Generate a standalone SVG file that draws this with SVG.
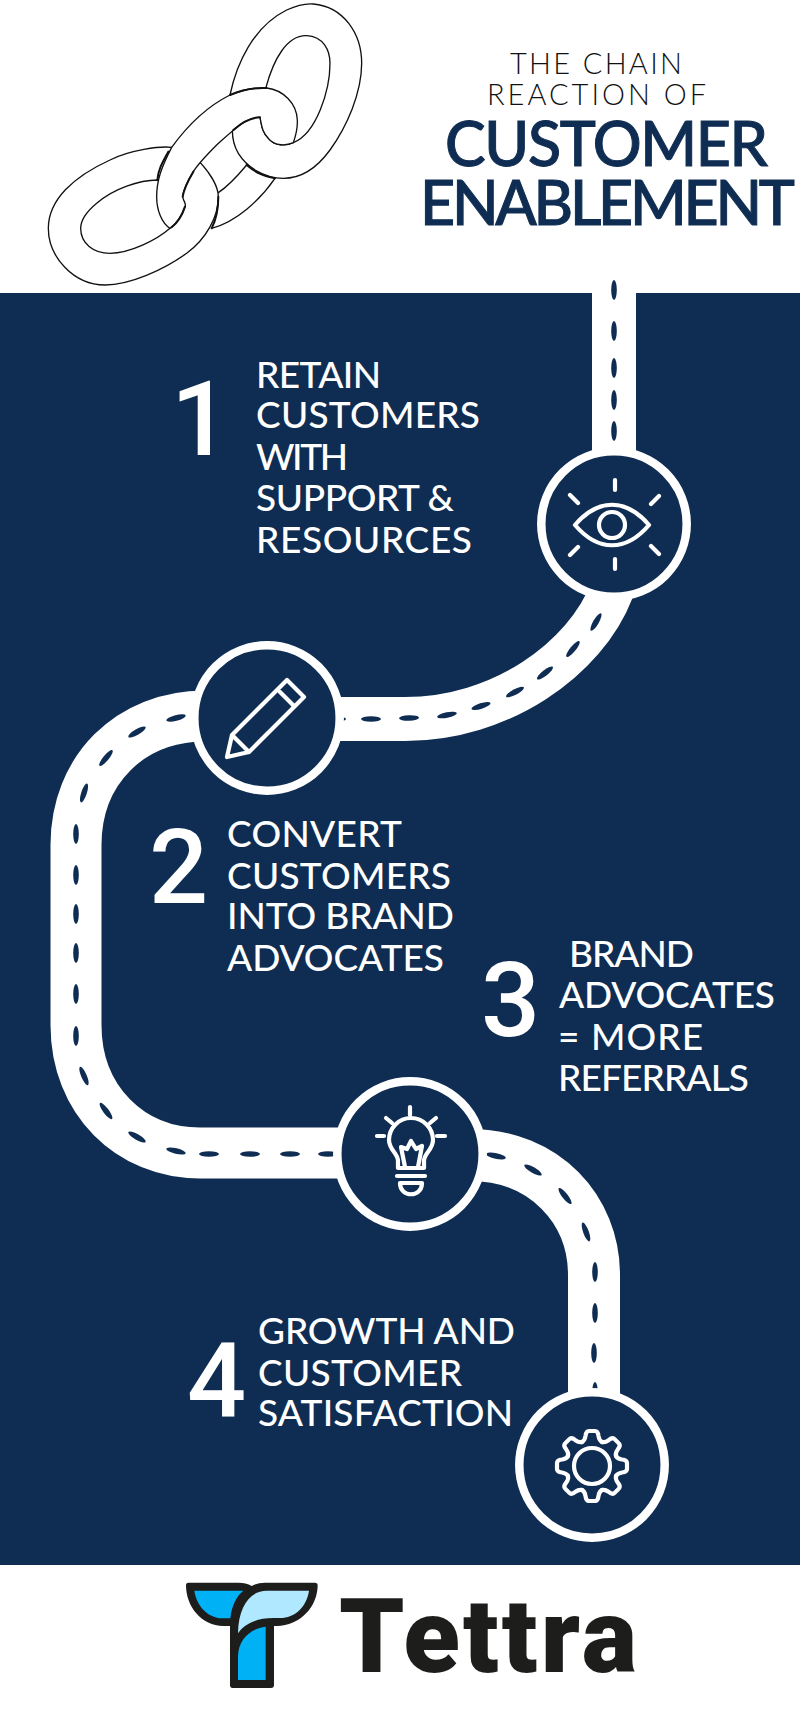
<svg xmlns="http://www.w3.org/2000/svg" width="800" height="1714" viewBox="0 0 800 1714">
<style>
.road{fill:none;stroke:#fff}
.ring{fill:#0f2d52;stroke:#fff;stroke-width:8.5}
.ico{fill:none;stroke:#fff;stroke-width:4.2;stroke-linecap:round;stroke-linejoin:round}
.chain{fill:#fff;stroke:#111;stroke-width:4;stroke-linejoin:round;stroke-linecap:round}
.line{fill:none;stroke:#111;stroke-width:4;stroke-linecap:round}
.thick{fill:none;stroke:#111;stroke-width:6;stroke-linecap:round}
.lab{font-family:"Lato","Liberation Sans",sans-serif;font-size:37px;font-weight:500;fill:#fff}
.num{font-family:"Roboto","Liberation Sans",sans-serif;font-size:104px;font-weight:500;fill:#fff}
.t1{font-family:"Lato","Liberation Sans",sans-serif;font-size:29px;font-weight:300;fill:#111}
.t2{font-family:"Lato","Liberation Sans",sans-serif;font-size:61px;font-weight:500;fill:#0f2d52;stroke:#0f2d52;stroke-width:1}
</style>
<defs><ellipse id="d" rx="10" ry="2.800" fill="#0f2d52"/></defs>
<rect width="800" height="1714" fill="#fff"/>
<rect id="panel" x="0" y="293" width="800" height="1272" fill="#0f2d52"/>
<g id="chain" transform="translate(30 0) scale(.33333)">
<path class="chain" d="M600 285C620 190 670 80 770 30C810 12 830 10 850 12C940 20 995 100 995 190C995 280 950 380 900 450C860 505 810 535 760 535C700 535 650 500 625 460C610 435 607 410 607 390Z"/>
<path class="chain" d="M708 262C730 180 770 105 830 107C880 110 900 150 900 190C900 270 860 400 790 428C770 437 735 440 715 415C695 395 695 375 690 352Z"/>
<path class="line" d="M565 578C600 555 625 525 650 495"/>
<path class="line" d="M545 685C620 665 690 600 735 535"/>
<path class="chain" d="M425 442C390 438 300 450 240 480C130 530 55 600 55 685C55 770 130 855 225 855C300 855 400 810 470 760C530 715 565 650 565 590C565 560 540 520 513 490L425 442Z"/>
<path class="chain" d="M382 540C330 540 250 565 200 610C170 635 152 660 152 685C152 730 190 760 240 760C300 760 380 720 420 685L460 600Z"/>
<path class="chain" d="M600 285C640 268 670 262 710 264C760 270 800 310 802 360C803 385 798 405 790 428C770 437 735 440 715 415C695 395 695 375 690 352C650 350 610 390 560 435C530 465 505 490 490 515C475 540 460 570 458 590C460 605 470 610 465 620C455 650 440 670 420 685C395 670 380 630 380 590C380 540 395 500 425 442C470 380 530 320 600 285Z"/>
<path class="thick" d="M600 285C640 268 670 262 710 264M382 540C385 510 395 490 415 455M490 515C475 540 462 565 458 590M465 620C455 650 440 670 425 682M565 590C565 640 555 665 545 685M650 495C680 520 700 528 735 535M690 352C660 352 630 372 610 390"/>
</g>
<g id="title">
<text class="t1" x="510" y="74" textLength="172" lengthAdjust="spacing">THE CHAIN</text>
<text class="t1" x="487" y="105" textLength="219" lengthAdjust="spacing">REACTION OF</text>
<text class="t2" x="445" y="166" textLength="323" lengthAdjust="spacing">CUSTOMER</text>
<text class="t2" x="420" y="225" textLength="375" lengthAdjust="spacing">ENABLEMENT</text>
</g>
<g id="connectors">
<path class="road" stroke-width="44" d="M614 283V530"/>
<path class="road" stroke-width="44" d="M612 590C585 660 500 719 405 719H300"/>
<path class="road" stroke-width="51" d="M267 716H205C130 716 76 770 76 845V1025C76 1100 130 1153 200 1153H420"/>
<path class="road" stroke-width="52" d="M400 1155H470C545 1155 594 1210 594 1275V1460"/>
<g id="dashes">
<use href="#d" transform="translate(614 290) rotate(90)"/>
<use href="#d" transform="translate(614 331) rotate(90)"/>
<use href="#d" transform="translate(614 368) rotate(90)"/>
<use href="#d" transform="translate(614 400) rotate(90)"/>
<use href="#d" transform="translate(614 431) rotate(90)"/>
<use href="#d" transform="translate(596 622) rotate(-60)"/>
<use href="#d" transform="translate(573 649) rotate(-50)"/>
<use href="#d" transform="translate(545 673) rotate(-38)"/>
<use href="#d" transform="translate(515 692) rotate(-28)"/>
<use href="#d" transform="translate(481 706) rotate(-18)"/>
<use href="#d" transform="translate(447 715) rotate(-11)"/>
<use href="#d" transform="translate(409 718) rotate(-2)"/>
<use href="#d" transform="translate(371 719)"/>
<use href="#d" transform="translate(336 719)"/>
<use href="#d" transform="translate(176 718) rotate(-14)"/>
<use href="#d" transform="translate(137 732) rotate(-30)"/>
<use href="#d" transform="translate(106 758) rotate(-50)"/>
<use href="#d" transform="translate(84 793) rotate(-72)"/>
<use href="#d" transform="translate(76 834) rotate(90)"/>
<use href="#d" transform="translate(76 875) rotate(90)"/>
<use href="#d" transform="translate(76 914) rotate(90)"/>
<use href="#d" transform="translate(76 953) rotate(90)"/>
<use href="#d" transform="translate(76 994) rotate(90)"/>
<use href="#d" transform="translate(76 1036) rotate(90)"/>
<use href="#d" transform="translate(84 1076) rotate(67)"/>
<use href="#d" transform="translate(106 1111) rotate(53)"/>
<use href="#d" transform="translate(137 1137) rotate(30)"/>
<use href="#d" transform="translate(176 1151) rotate(13)"/>
<use href="#d" transform="translate(209 1154)"/>
<use href="#d" transform="translate(250 1154)"/>
<use href="#d" transform="translate(290 1154)"/>
<use href="#d" transform="translate(328 1154)"/>
<use href="#d" transform="translate(496 1156) rotate(12)"/>
<use href="#d" transform="translate(533 1170) rotate(30)"/>
<use href="#d" transform="translate(565 1196) rotate(52)"/>
<use href="#d" transform="translate(586 1232) rotate(70)"/>
<use href="#d" transform="translate(595 1272) rotate(90)"/>
<use href="#d" transform="translate(595 1313) rotate(90)"/>
<use href="#d" transform="translate(594 1353) rotate(90)"/>
<use href="#d" transform="translate(595 1392) rotate(90)"/>
</g>
</g>
<g id="node-eye">
<circle class="ring" cx="614" cy="524" r="72.7"/>
<path class="ico" d="M575 525C598 498 626 498 649 525C626 552 598 552 575 525Z"/>
<circle class="ico" cx="612" cy="525" r="13"/>
<path class="ico" d="M615 480V490M615 559V569M570 495L578 503M659 496L651 504M578 547L570 555M651 546L659 554"/>
</g>
<g id="node-pencil">
<circle class="ring" cx="267" cy="718" r="72.7"/>
<path class="ico" d="M227 757L232 735L287 680L304 697L249 752ZM232 735L249 752M280 692L293 705"/>
</g>
<g id="node-bulb">
<circle class="ring" cx="410" cy="1154" r="72.7"/>
<path class="ico" d="M410 1107V1115M386 1118L392 1123M436 1118L430 1123M377 1136H384M437 1136H445"/>
<path class="ico" d="M398 1168V1161C398 1153 389 1150 389 1140A22 22 0 0 1 433 1140C433 1150 424 1153 424 1161V1168ZM405 1167L401 1147L407 1149L411 1141L416 1149L422 1146L418 1167M397 1176H425M400 1183H422C422 1198 400 1198 400 1183Z"/>
</g>
<g id="node-gear">
<circle class="ring" cx="592" cy="1465" r="72.7"/>
<g transform="translate(592 1466)">
<circle class="ico" r="18"/>
<path id="tooth" class="ico" d="M-10-24C-8-25-7-27-6.500-30Q-6-35-3-35H3Q6-35 6.500-30C7-27 8-25 10-24"/>
<use href="#tooth" transform="rotate(45)"/><use href="#tooth" transform="rotate(90)"/><use href="#tooth" transform="rotate(135)"/><use href="#tooth" transform="rotate(180)"/><use href="#tooth" transform="rotate(225)"/><use href="#tooth" transform="rotate(270)"/><use href="#tooth" transform="rotate(315)"/>
</g>
</g>
<g id="step-1">
<text class="num" x="171" y="455">1</text>
<text class="lab" x="256" y="388" textLength="125" lengthAdjust="spacing">RETAIN</text>
<text class="lab" x="256" y="428" textLength="224" lengthAdjust="spacing">CUSTOMERS</text>
<text class="lab" x="256" y="470" textLength="92" lengthAdjust="spacing">WITH</text>
<text class="lab" x="256" y="511" textLength="198" lengthAdjust="spacing">SUPPORT &amp;</text>
<text class="lab" x="256" y="553" textLength="216" lengthAdjust="spacing">RESOURCES</text>
</g>
<g id="step-2">
<text class="num" x="149" y="903">2</text>
<text class="lab" x="227" y="847" textLength="175" lengthAdjust="spacing">CONVERT</text>
<text class="lab" x="227" y="889" textLength="224" lengthAdjust="spacing">CUSTOMERS</text>
<text class="lab" x="227" y="929" textLength="227" lengthAdjust="spacing">INTO BRAND</text>
<text class="lab" x="227" y="971" textLength="217" lengthAdjust="spacing">ADVOCATES</text>
</g>
<g id="step-3">
<text class="num" x="481" y="1036">3</text>
<text class="lab" x="569" y="967" textLength="125" lengthAdjust="spacing">BRAND</text>
<text class="lab" x="559" y="1008" textLength="216" lengthAdjust="spacing">ADVOCATES</text>
<text class="lab" x="558" y="1050" textLength="145" lengthAdjust="spacing">= MORE</text>
<text class="lab" x="558" y="1091" textLength="191" lengthAdjust="spacing">REFERRALS</text>
</g>
<g id="step-4">
<text class="num" x="187" y="1417">4</text>
<text class="lab" x="258" y="1344" textLength="257" lengthAdjust="spacing">GROWTH AND</text>
<text class="lab" x="258" y="1386" textLength="204" lengthAdjust="spacing">CUSTOMER</text>
<text class="lab" x="258" y="1426" textLength="255" lengthAdjust="spacing">SATISFACTION</text>
</g>
<g id="logo">
<g transform="translate(160 1560) scale(.33333)">
<path fill="#1d1d1b" d="M85 68H235Q258 68 275 78Q292 68 315 68H465Q473 68 473 76C473 140 420 198 350 198H342V375Q342 384 333 384H218Q210 384 210 375V198H190C125 198 78 140 78 76Q78 68 85 68Z"/>
<path fill="#00b1f5" d="M103 92H250C232 105 215 135 211 175H190C145 175 110 140 103 92Z"/>
<path fill="#b0e9ff" d="M447 92H320C270 92 235 140 234 220C250 195 285 174 340 174H360C405 174 440 140 447 92Z"/>
<path fill="#00b1f5" d="M317 200C270 205 234 240 234 290V360H317Z"/>
</g>
<text x="339" y="1672" font-family="Roboto,'Liberation Sans',sans-serif" font-weight="900" font-size="104" fill="#1d1d1b" textLength="298" lengthAdjust="spacing">Tettra</text>
</g>
</svg>
